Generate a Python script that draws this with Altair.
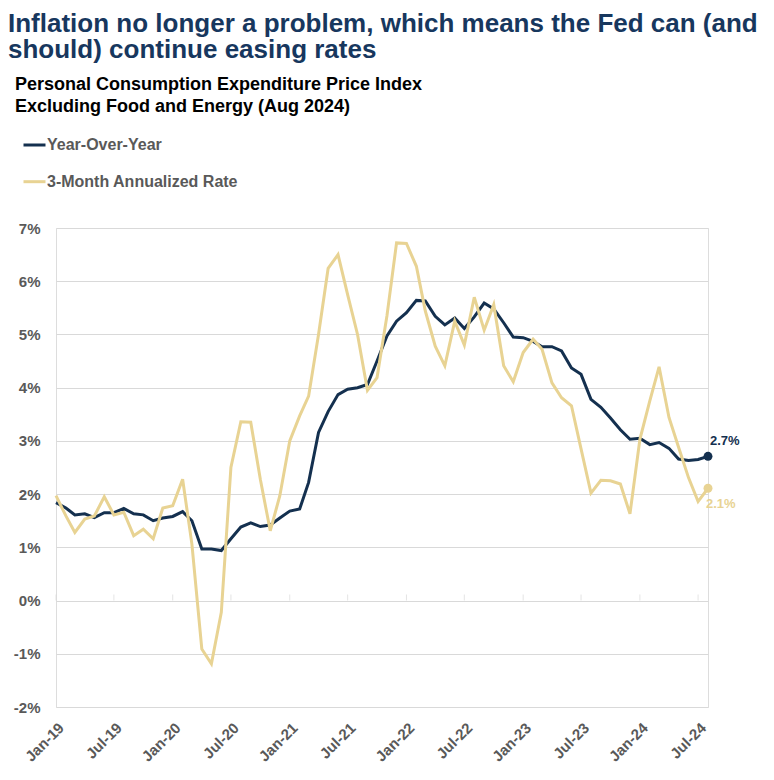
import altair as alt
import pandas as pd

# ---------------- data ----------------
months = [f"{y}-{m:02d}-01" for y in range(2019, 2025) for m in range(1, 13)][:68]

series_names = ["Year-Over-Year", "3-Month Annualized Rate"]

yoy = [1.84, 1.74, 1.61, 1.63, 1.56, 1.65, 1.65, 1.73, 1.63, 1.61, 1.50, 1.55,
       1.58, 1.67, 1.50, 0.97, 0.97, 0.94, 1.16, 1.38, 1.46, 1.39, 1.42, 1.55,
       1.68, 1.72, 2.22, 3.16, 3.55, 3.87, 3.97, 4.00, 4.06, 4.50, 4.97, 5.25,
       5.41, 5.64, 5.63, 5.34, 5.18, 5.31, 5.11, 5.33, 5.59, 5.48, 5.22, 4.95,
       4.94, 4.87, 4.77, 4.77, 4.69, 4.37, 4.25, 3.78, 3.63, 3.43, 3.21, 3.03,
       3.05, 2.93, 2.97, 2.86, 2.66, 2.63, 2.65, 2.71]

m3 = [1.97, 1.59, 1.28, 1.53, 1.59, 1.95, 1.61, 1.66, 1.22, 1.34, 1.16, 1.74,
      1.78, 2.28, 1.06, -0.91, -1.19, -0.22, 2.50, 3.36, 3.35, 2.28, 1.31, 1.97,
      3.00, 3.47, 3.84, 5.00, 6.24, 6.50, 5.75, 5.00, 3.95, 4.19, 5.35, 6.72,
      6.71, 6.28, 5.44, 4.78, 4.41, 5.25, 4.80, 5.70, 5.08, 5.56, 4.41, 4.11,
      4.66, 4.91, 4.72, 4.09, 3.81, 3.66, 2.85, 2.02, 2.26, 2.25, 2.19, 1.63,
      3.03, 3.75, 4.39, 3.44, 2.88, 2.31, 1.86, 2.11]

end_labels = ["2.7%", "2.1%"]

x_tick_dates = [(y, m) for y in range(2019, 2025) for m in (1, 7)]
y_ticks = [-2, -1, 0, 1, 2, 3, 4, 5, 6, 7]

title_lines = ["Inflation no longer a problem, which means the Fed can (and",
               "should) continue easing rates"]
subtitle_lines = ["Personal Consumption Expenditure Price Index",
                  "Excluding Food and Energy (Aug 2024)"]

NAVY = "#14304F"
GOLD = "#E8D393"
GRAY = "#595959"
GRID = "#D9D9D9"
FONT = "Liberation Sans"

# ---------------- tables ----------------
dates = [d + "T00:00:00" for d in months]
df = pd.DataFrame({
    "date": dates * 2,
    "value": yoy + m3,
    "series": [series_names[0]] * len(yoy) + [series_names[1]] * len(m3),
})
last_yoy = pd.DataFrame({"date": [dates[-1]], "value": [yoy[-1]], "label": [end_labels[0]]})
last_m3 = pd.DataFrame({"date": [dates[-1]], "value": [m3[-1]], "label": [end_labels[1]]})
ticks_df = pd.DataFrame({
    "date": [f"{y}-{m:02d}-01T00:00:00" for y, m in x_tick_dates],
    "zero": [0] * len(x_tick_dates),
})

x_scale = alt.Scale(domain=[alt.DateTime(year=2019, month=1, date=1),
                            alt.DateTime(year=2024, month=8, date=1)])
y_scale = alt.Scale(domain=[-2, 7], nice=False, zero=False)

x_enc = alt.X(
    "date:T", scale=x_scale, title=None,
    axis=alt.Axis(
        values=[alt.DateTime(year=y, month=m, date=1) for y, m in x_tick_dates],
        format="%b-%y", labelAngle=315, labelFontSize=15, labelFontWeight="bold",
        labelColor=GRAY, labelPadding=13, ticks=False, domain=False, grid=False,
        labelFlush=False, labelOverlap=False,
    ),
)
y_enc = alt.Y(
    "value:Q", scale=y_scale, title=None,
    axis=alt.Axis(
        values=y_ticks, labelExpr="datum.value + '%'", grid=True, gridColor=GRID,
        gridWidth=1, domain=False, ticks=False, labelFontSize=15,
        labelFontWeight="bold", labelColor=GRAY, labelPadding=16,
    ),
)

# the legend carries the chart's subtitle as its (two-line) title
lines = alt.Chart(df).mark_line(strokeWidth=3).encode(
    x=x_enc,
    y=y_enc,
    color=alt.Color(
        "series:N",
        scale=alt.Scale(domain=series_names, range=[NAVY, GOLD]),
        legend=alt.Legend(
            title=subtitle_lines, titleFont=FONT, titleFontSize=18,
            titleFontWeight="bold", titleColor="#000000", titleLineHeight=21.5,
            titleLimit=0, titleAnchor="start", titlePadding=17,
            orient="none", legendX=-41, legendY=-152,
            direction="vertical", symbolType="stroke", symbolSize=484,
            symbolStrokeWidth=3, symbolOffset=7, labelFontSize=16,
            labelFontWeight="bold", labelColor=GRAY, labelFont=FONT,
            rowPadding=15.7, labelOffset=0, padding=0, labelLimit=0,
        ),
    ),
)

zero_ticks = alt.Chart(ticks_df).mark_tick(
    orient="vertical", size=6, thickness=1, color=GRID, yOffset=-3
).encode(x=alt.X("date:T", scale=x_scale), y=alt.Y("zero:Q", scale=y_scale))

pt_yoy = alt.Chart(last_yoy).mark_point(filled=True, size=80, opacity=1, color=NAVY).encode(
    x=alt.X("date:T", scale=x_scale), y=alt.Y("value:Q", scale=y_scale))
pt_m3 = alt.Chart(last_m3).mark_point(filled=True, size=80, opacity=1, color=GOLD).encode(
    x=alt.X("date:T", scale=x_scale), y=alt.Y("value:Q", scale=y_scale))

txt_yoy = alt.Chart(last_yoy).mark_text(
    align="left", baseline="middle", dx=2, dy=-15, fontSize=13,
    fontWeight="bold", color=NAVY, font=FONT,
).encode(x=alt.X("date:T", scale=x_scale), y=alt.Y("value:Q", scale=y_scale), text="label:N")
txt_m3 = alt.Chart(last_m3).mark_text(
    align="left", baseline="middle", dx=-2, dy=16, fontSize=13,
    fontWeight="bold", color=GOLD, font=FONT,
).encode(x=alt.X("date:T", scale=x_scale), y=alt.Y("value:Q", scale=y_scale), text="label:N")

chart = alt.layer(zero_ticks, lines, pt_yoy, pt_m3, txt_yoy, txt_m3).properties(
    width=652,
    height=479,
    autosize=alt.AutoSizeParams(type="none"),
    padding={"left": 48, "top": 220, "right": 58, "bottom": 65},
    title=alt.Title(
        text=title_lines,
        anchor="start",
        frame="group",
        dx=-48,
        offset=13,
        font=FONT,
        fontSize=26,
        fontWeight="bold",
        color="#17375E",
        lineHeight=26,
    ),
).configure_view(stroke=None).configure(font=FONT)

chart.save("out.html", embed_options={"renderer": "svg", "actions": False})
